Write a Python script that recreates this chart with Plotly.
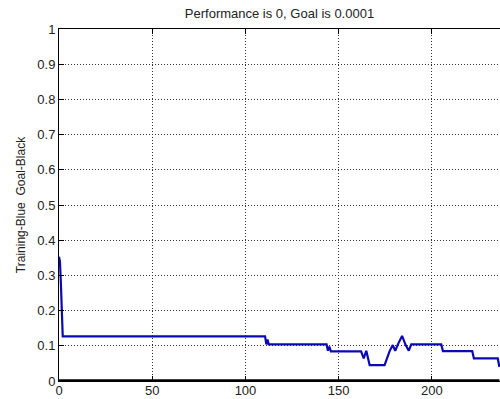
import plotly.graph_objects as go

# Training performance curve (epochs vs performance)
epochs = [0, 0.5, 1.0, 2.0, 110.5, 111.2, 111.8, 112.5, 143.5, 144.2, 145.0, 145.8,
          162.0, 163.4, 164.8, 166.6, 174.6, 177.3, 179.0, 180.3, 182.0, 184.0,
          185.9, 187.6, 188.9, 205.0, 205.9, 221.6, 222.5, 235.3, 236.2]
perf = [0.353, 0.34, 0.28, 0.127, 0.127, 0.104, 0.118, 0.104, 0.104, 0.086, 0.098, 0.084,
        0.084, 0.064, 0.086, 0.045, 0.045, 0.085, 0.102, 0.086, 0.107, 0.128,
        0.102, 0.086, 0.104, 0.104, 0.085, 0.085, 0.064, 0.064, 0.04]

goal_x = [0, 236.2]
goal_y = [0.0001, 0.0001]

x_ticks = [0, 50, 100, 150, 200]
y_ticks = [0, 0.1, 0.2, 0.3, 0.4, 0.5, 0.6, 0.7, 0.8, 0.9, 1]
y_tick_labels = ["0", "0.1", "0.2", "0.3", "0.4", "0.5", "0.6", "0.7", "0.8", "0.9", "1"]

FONT = "Liberation Sans, Arial"

fig = go.Figure()
fig.add_trace(go.Scatter(x=epochs, y=perf, mode="lines",
                         line=dict(color="#0a0ab4", width=2.2), showlegend=False))
fig.add_trace(go.Scatter(x=goal_x, y=goal_y, mode="lines",
                         line=dict(color="black", width=3.5), showlegend=False,
                         cliponaxis=False))

axis_common = dict(
    showline=True, linecolor="black", linewidth=1,
    ticks="inside", ticklen=5, tickcolor="black",
    showgrid=True, gridcolor="#333", gridwidth=1, griddash="1px,2px",
    zeroline=False, automargin=False,
    tickfont=dict(family=FONT, size=13, color="#222"),
)

W, H = 500, 399
fig.update_layout(
    width=W, height=H,
    margin=dict(l=59, r=0, t=29, b=18, pad=0),
    paper_bgcolor="white", plot_bgcolor="white",
    title=dict(text="Performance is 0, Goal is 0.0001", x=0.5, xref="paper",
               y=1 - 13 / H, yref="container", yanchor="middle",
               font=dict(family=FONT, size=13, color="#222")),
    xaxis=dict(range=[0, 236.5], tickvals=x_ticks, mirror="ticks",
               ticklabelstandoff=-3, **axis_common),
    yaxis=dict(range=[0, 1], tickvals=y_ticks, ticktext=y_tick_labels, mirror=False,
               title=dict(text="Training-Blue  Goal-Black",
                          font=dict(family=FONT, size=12, color="#222"),
                          standoff=9),
               **axis_common),
)

fig.write_html(
    "out.html",
    config={"displayModeBar": False},
    post_script="document.body.style.margin='0';document.body.style.overflow='hidden';",
)
